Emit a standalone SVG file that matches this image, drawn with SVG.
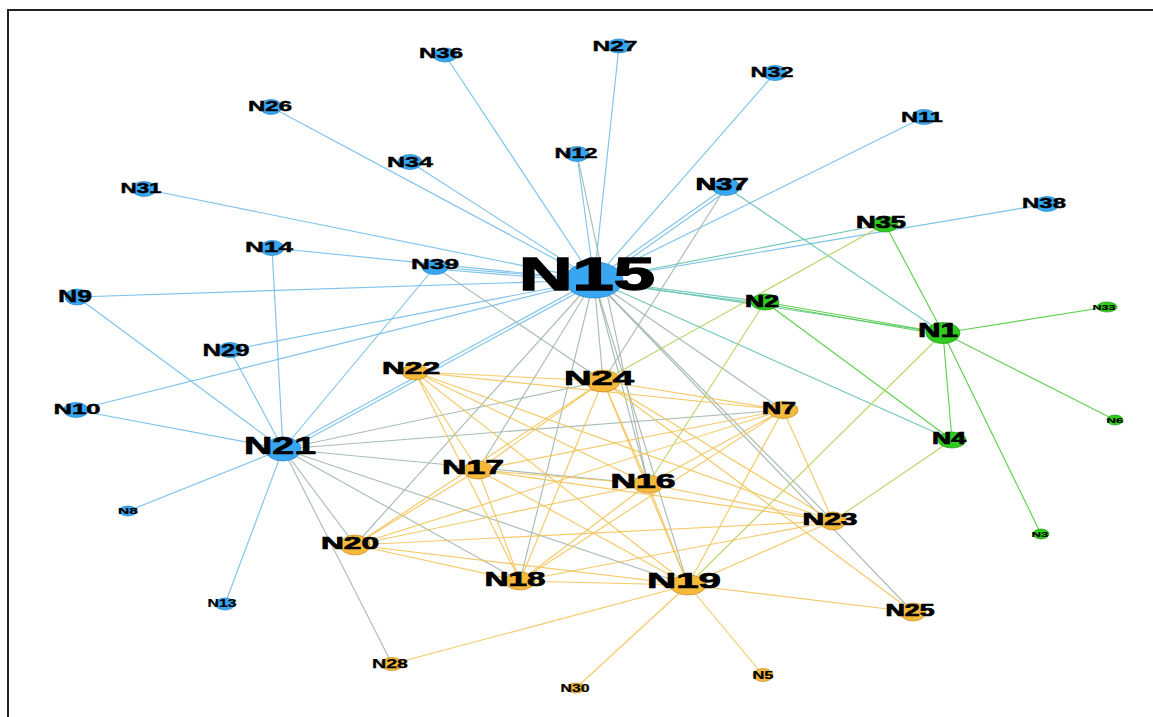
<svg xmlns="http://www.w3.org/2000/svg" width="1153" height="717" viewBox="0 0 1153 717">
<style>
.e{stroke-width:1.15;fill:none;opacity:0.9}
.bb{stroke:#72bce8}
.bo{stroke:#a0b6aa}
.oo{stroke:#f3c355}
.gg{stroke:#4fca3c}
.bg{stroke:#62c2b0}
.go{stroke:#b2d05a}
.b ellipse{fill:#39a6f2;stroke:#2a86c9;stroke-width:0.7}
.g ellipse{fill:#2fcc1f;stroke:#1f9a12;stroke-width:0.7}
.o ellipse{fill:#f7b93c;stroke:#c08a22;stroke-width:0.7}
text{font-family:"Liberation Sans",Arial,sans-serif;font-weight:bold;fill:#000;stroke:#000;stroke-width:0.4;text-anchor:middle}
text.big{stroke-width:1.4}
text.mid{stroke-width:0.7}
</style>
<rect x="0" y="0" width="1153" height="717" fill="#fff"/>
<path d="M8,717 V10 H1153" fill="none" stroke="#222" stroke-width="2"/>
<g id="connectors">
<line class="e bb" x1="594" y1="280" x2="445" y2="55"/>
<line class="e bb" x1="594" y1="280" x2="619" y2="46"/>
<line class="e bb" x1="594" y1="280" x2="775" y2="73"/>
<line class="e bb" x1="594" y1="280" x2="924" y2="117"/>
<line class="e bb" x1="594" y1="280" x2="1047" y2="204"/>
<line class="e bb" x1="594" y1="280" x2="271" y2="107"/>
<line class="e bb" x1="594" y1="280" x2="410" y2="162"/>
<line class="e bb" x1="594" y1="280" x2="577" y2="154"/>
<line class="e bb" x1="594" y1="280" x2="726" y2="187"/>
<line class="e bb" x1="596" y1="283" x2="728" y2="190"/>
<line class="e bb" x1="594" y1="280" x2="144" y2="189"/>
<line class="e bb" x1="594" y1="280" x2="272" y2="248"/>
<line class="e bb" x1="594" y1="280" x2="435" y2="267"/>
<line class="e bb" x1="594" y1="282" x2="435" y2="269"/>
<line class="e bb" x1="594" y1="280" x2="77" y2="297"/>
<line class="e bb" x1="594" y1="280" x2="230" y2="350"/>
<line class="e bb" x1="594" y1="280" x2="76" y2="410"/>
<line class="e bb" x1="594" y1="280" x2="283" y2="449"/>
<line class="e bb" x1="595" y1="283" x2="284" y2="452"/>
<line class="e bb" x1="283" y1="449" x2="272" y2="248"/>
<line class="e bb" x1="283" y1="449" x2="77" y2="297"/>
<line class="e bb" x1="283" y1="449" x2="230" y2="350"/>
<line class="e bb" x1="283" y1="449" x2="76" y2="410"/>
<line class="e bb" x1="283" y1="449" x2="435" y2="267"/>
<line class="e bb" x1="283" y1="449" x2="128" y2="511"/>
<line class="e bb" x1="283" y1="449" x2="225" y2="604"/>
<line class="e bg" x1="594" y1="280" x2="885" y2="224"/>
<line class="e bg" x1="594" y1="280" x2="765" y2="302"/>
<line class="e bg" x1="594" y1="282" x2="765" y2="304"/>
<line class="e bg" x1="594" y1="280" x2="943" y2="333"/>
<line class="e bg" x1="594" y1="280" x2="952" y2="440"/>
<line class="e bg" x1="726" y1="187" x2="943" y2="333"/>
<line class="e bo" x1="594" y1="280" x2="603" y2="381"/>
<line class="e bo" x1="594" y1="280" x2="478" y2="470"/>
<line class="e bo" x1="594" y1="280" x2="520" y2="581"/>
<line class="e bo" x1="594" y1="280" x2="648" y2="484"/>
<line class="e bo" x1="594" y1="280" x2="688" y2="585"/>
<line class="e bo" x1="594" y1="280" x2="833" y2="521"/>
<line class="e bo" x1="594" y1="280" x2="913" y2="612"/>
<line class="e bo" x1="594" y1="280" x2="355" y2="545"/>
<line class="e bo" x1="594" y1="280" x2="783" y2="410"/>
<line class="e bo" x1="577" y1="154" x2="648" y2="484"/>
<line class="e bo" x1="726" y1="187" x2="603" y2="381"/>
<line class="e bo" x1="435" y1="267" x2="603" y2="381"/>
<line class="e bo" x1="283" y1="449" x2="603" y2="381"/>
<line class="e bo" x1="283" y1="449" x2="783" y2="410"/>
<line class="e bo" x1="283" y1="449" x2="648" y2="484"/>
<line class="e bo" x1="283" y1="449" x2="520" y2="581"/>
<line class="e bo" x1="283" y1="449" x2="688" y2="585"/>
<line class="e bo" x1="283" y1="449" x2="355" y2="545"/>
<line class="e bo" x1="283" y1="449" x2="392" y2="664"/>
<line class="e gg" x1="885" y1="224" x2="943" y2="333"/>
<line class="e gg" x1="765" y1="302" x2="943" y2="333"/>
<line class="e gg" x1="765" y1="304" x2="943" y2="335"/>
<line class="e gg" x1="765" y1="302" x2="952" y2="440"/>
<line class="e gg" x1="943" y1="333" x2="1107" y2="307"/>
<line class="e gg" x1="943" y1="333" x2="1115" y2="420"/>
<line class="e gg" x1="943" y1="333" x2="1041" y2="534"/>
<line class="e gg" x1="943" y1="333" x2="952" y2="440"/>
<line class="e go" x1="885" y1="224" x2="603" y2="381"/>
<line class="e go" x1="765" y1="302" x2="648" y2="484"/>
<line class="e go" x1="943" y1="333" x2="688" y2="585"/>
<line class="e go" x1="952" y1="440" x2="833" y2="521"/>
<line class="e oo" x1="415" y1="372" x2="603" y2="381"/>
<line class="e oo" x1="415" y1="372" x2="478" y2="470"/>
<line class="e oo" x1="415" y1="372" x2="520" y2="581"/>
<line class="e oo" x1="415" y1="372" x2="648" y2="484"/>
<line class="e oo" x1="415" y1="372" x2="688" y2="585"/>
<line class="e oo" x1="415" y1="372" x2="833" y2="521"/>
<line class="e oo" x1="415" y1="372" x2="783" y2="410"/>
<line class="e oo" x1="603" y1="381" x2="478" y2="470"/>
<line class="e oo" x1="603" y1="381" x2="648" y2="484"/>
<line class="e oo" x1="603" y1="381" x2="520" y2="581"/>
<line class="e oo" x1="603" y1="381" x2="688" y2="585"/>
<line class="e oo" x1="603" y1="381" x2="355" y2="545"/>
<line class="e oo" x1="603" y1="381" x2="783" y2="410"/>
<line class="e oo" x1="603" y1="381" x2="833" y2="521"/>
<line class="e oo" x1="603" y1="381" x2="913" y2="612"/>
<line class="e oo" x1="478" y1="470" x2="648" y2="484"/>
<line class="e oo" x1="478" y1="470" x2="520" y2="581"/>
<line class="e oo" x1="478" y1="470" x2="688" y2="585"/>
<line class="e oo" x1="478" y1="470" x2="355" y2="545"/>
<line class="e oo" x1="478" y1="470" x2="783" y2="410"/>
<line class="e oo" x1="478" y1="470" x2="833" y2="521"/>
<line class="e oo" x1="648" y1="484" x2="520" y2="581"/>
<line class="e oo" x1="648" y1="484" x2="688" y2="585"/>
<line class="e oo" x1="648" y1="484" x2="355" y2="545"/>
<line class="e oo" x1="648" y1="484" x2="783" y2="410"/>
<line class="e oo" x1="648" y1="484" x2="833" y2="521"/>
<line class="e oo" x1="783" y1="410" x2="520" y2="581"/>
<line class="e oo" x1="783" y1="410" x2="688" y2="585"/>
<line class="e oo" x1="783" y1="410" x2="355" y2="545"/>
<line class="e oo" x1="783" y1="410" x2="833" y2="521"/>
<line class="e oo" x1="355" y1="545" x2="520" y2="581"/>
<line class="e oo" x1="355" y1="545" x2="688" y2="585"/>
<line class="e oo" x1="355" y1="545" x2="833" y2="521"/>
<line class="e oo" x1="520" y1="581" x2="688" y2="585"/>
<line class="e oo" x1="520" y1="581" x2="833" y2="521"/>
<line class="e oo" x1="688" y1="585" x2="833" y2="521"/>
<line class="e oo" x1="688" y1="585" x2="913" y2="612"/>
<line class="e oo" x1="688" y1="585" x2="392" y2="664"/>
<line class="e oo" x1="688" y1="585" x2="576" y2="688"/>
<line class="e oo" x1="688" y1="585" x2="763" y2="675"/>
</g>
<g id="nodes">
<g id="N15" class="b"><ellipse cx="594" cy="280" rx="29" ry="18"/><text class="big" x="587" y="290" font-size="46" textLength="136" lengthAdjust="spacingAndGlyphs">N15</text></g>
<g id="N21" class="b"><ellipse cx="283" cy="449" rx="18" ry="12"/><text class="mid" x="280" y="454" font-size="24" textLength="72" lengthAdjust="spacingAndGlyphs">N21</text></g>
<g id="N36" class="b"><ellipse cx="445" cy="55" rx="12" ry="7"/><text x="441" y="58" font-size="14" textLength="44" lengthAdjust="spacingAndGlyphs">N36</text></g>
<g id="N27" class="b"><ellipse cx="619" cy="46" rx="12" ry="7"/><text x="615" y="51" font-size="15" textLength="45" lengthAdjust="spacingAndGlyphs">N27</text></g>
<g id="N32" class="b"><ellipse cx="775" cy="73" rx="12" ry="7.5"/><text x="772" y="77" font-size="14" textLength="43" lengthAdjust="spacingAndGlyphs">N32</text></g>
<g id="N11" class="b"><ellipse cx="924" cy="117" rx="12" ry="7.5"/><text x="922" y="122" font-size="15" textLength="42" lengthAdjust="spacingAndGlyphs">N11</text></g>
<g id="N38" class="b"><ellipse cx="1047" cy="204" rx="12" ry="7.5"/><text x="1044" y="208" font-size="14" textLength="44" lengthAdjust="spacingAndGlyphs">N38</text></g>
<g id="N26" class="b"><ellipse cx="271" cy="107" rx="11" ry="7.5"/><text x="270" y="111" font-size="14" textLength="44" lengthAdjust="spacingAndGlyphs">N26</text></g>
<g id="N34" class="b"><ellipse cx="410" cy="162" rx="12" ry="7.5"/><text x="410" y="167" font-size="15" textLength="46" lengthAdjust="spacingAndGlyphs">N34</text></g>
<g id="N12" class="b"><ellipse cx="577" cy="154" rx="12" ry="7.5"/><text x="576" y="158" font-size="14" textLength="43" lengthAdjust="spacingAndGlyphs">N12</text></g>
<g id="N37" class="b"><ellipse cx="726" cy="187" rx="14" ry="8.5"/><text class="mid" x="722" y="190" font-size="17" textLength="53" lengthAdjust="spacingAndGlyphs">N37</text></g>
<g id="N31" class="b"><ellipse cx="144" cy="189" rx="12" ry="7.5"/><text x="141" y="193" font-size="14" textLength="41" lengthAdjust="spacingAndGlyphs">N31</text></g>
<g id="N14" class="b"><ellipse cx="272" cy="248" rx="12" ry="7.5"/><text x="269" y="252" font-size="15" textLength="48" lengthAdjust="spacingAndGlyphs">N14</text></g>
<g id="N39" class="b"><ellipse cx="435" cy="267" rx="13" ry="7.5"/><text x="435" y="269" font-size="14" textLength="48" lengthAdjust="spacingAndGlyphs">N39</text></g>
<g id="N9" class="b"><ellipse cx="77" cy="297" rx="12" ry="8"/><text x="75" y="302" font-size="16" textLength="34" lengthAdjust="spacingAndGlyphs">N9</text></g>
<g id="N29" class="b"><ellipse cx="230" cy="350" rx="12" ry="7.5"/><text x="226" y="356" font-size="16" textLength="47" lengthAdjust="spacingAndGlyphs">N29</text></g>
<g id="N10" class="b"><ellipse cx="76" cy="410" rx="12.5" ry="7.5"/><text x="77" y="414" font-size="15" textLength="47" lengthAdjust="spacingAndGlyphs">N10</text></g>
<g id="N8" class="b"><ellipse cx="128" cy="511" rx="9" ry="5"/><text x="128" y="513.5" font-size="8.5" textLength="20" lengthAdjust="spacingAndGlyphs" style="stroke-width:0.2">N8</text></g>
<g id="N13" class="b"><ellipse cx="225" cy="604" rx="10" ry="6"/><text x="222" y="607" font-size="10" textLength="29" lengthAdjust="spacingAndGlyphs" style="stroke-width:0.2">N13</text></g>
<g id="N35" class="g"><ellipse cx="885" cy="224" rx="13" ry="8"/><text class="mid" x="881" y="228" font-size="17" textLength="50" lengthAdjust="spacingAndGlyphs">N35</text></g>
<g id="N2" class="g"><ellipse cx="765" cy="302" rx="14" ry="8"/><text class="mid" x="762" y="307" font-size="16" textLength="34" lengthAdjust="spacingAndGlyphs">N2</text></g>
<g id="N1" class="g"><ellipse cx="943" cy="333" rx="17" ry="10.5"/><text class="mid" x="938" y="337" font-size="20" textLength="40" lengthAdjust="spacingAndGlyphs">N1</text></g>
<g id="N33" class="g"><ellipse cx="1107" cy="307" rx="10" ry="5"/><text x="1104" y="310" font-size="8" textLength="23" lengthAdjust="spacingAndGlyphs" style="stroke-width:0.15">N33</text></g>
<g id="N6" class="g"><ellipse cx="1115" cy="420" rx="8" ry="5"/><text x="1115" y="423" font-size="8" textLength="17" lengthAdjust="spacingAndGlyphs" style="stroke-width:0.15">N6</text></g>
<g id="N4" class="g"><ellipse cx="952" cy="440" rx="14" ry="8"/><text class="mid" x="949" y="444" font-size="17" textLength="34" lengthAdjust="spacingAndGlyphs">N4</text></g>
<g id="N3" class="g"><ellipse cx="1041" cy="534" rx="8" ry="5"/><text x="1040" y="537" font-size="8" textLength="17" lengthAdjust="spacingAndGlyphs" style="stroke-width:0.15">N3</text></g>
<g id="N22" class="o"><ellipse cx="415" cy="372" rx="13" ry="8"/><text class="mid" x="411" y="374" font-size="17" textLength="58" lengthAdjust="spacingAndGlyphs">N22</text></g>
<g id="N24" class="o"><ellipse cx="603" cy="381" rx="17" ry="11"/><text class="mid" x="599" y="385" font-size="21" textLength="70" lengthAdjust="spacingAndGlyphs">N24</text></g>
<g id="N7" class="o"><ellipse cx="783" cy="410" rx="15" ry="8.5"/><text class="mid" x="779" y="414" font-size="17" textLength="34" lengthAdjust="spacingAndGlyphs">N7</text></g>
<g id="N17" class="o"><ellipse cx="478" cy="470" rx="15" ry="9"/><text class="mid" x="473" y="474" font-size="21" textLength="62" lengthAdjust="spacingAndGlyphs">N17</text></g>
<g id="N16" class="o"><ellipse cx="648" cy="484" rx="15" ry="9"/><text class="mid" x="643" y="488" font-size="20" textLength="65" lengthAdjust="spacingAndGlyphs">N16</text></g>
<g id="N23" class="o"><ellipse cx="833" cy="521" rx="13" ry="9"/><text class="mid" x="830" y="525" font-size="17" textLength="55" lengthAdjust="spacingAndGlyphs">N23</text></g>
<g id="N20" class="o"><ellipse cx="355" cy="545" rx="15" ry="10"/><text class="mid" x="350" y="549" font-size="17" textLength="58" lengthAdjust="spacingAndGlyphs">N20</text></g>
<g id="N18" class="o"><ellipse cx="520" cy="581" rx="15" ry="9"/><text class="mid" x="515" y="586" font-size="21" textLength="61" lengthAdjust="spacingAndGlyphs">N18</text></g>
<g id="N19" class="o"><ellipse cx="688" cy="585" rx="18" ry="10"/><text class="mid" x="684" y="588" font-size="22" textLength="74" lengthAdjust="spacingAndGlyphs">N19</text></g>
<g id="N25" class="o"><ellipse cx="913" cy="612" rx="13" ry="9"/><text class="mid" x="910" y="616" font-size="16" textLength="49" lengthAdjust="spacingAndGlyphs">N25</text></g>
<g id="N28" class="o"><ellipse cx="392" cy="664" rx="11" ry="6.5"/><text x="390" y="668" font-size="12" textLength="36" lengthAdjust="spacingAndGlyphs" style="stroke-width:0.25">N28</text></g>
<g id="N30" class="o"><ellipse cx="576" cy="688" rx="9" ry="5"/><text x="575" y="692" font-size="10" textLength="29" lengthAdjust="spacingAndGlyphs" style="stroke-width:0.2">N30</text></g>
<g id="N5" class="o"><ellipse cx="763" cy="675" rx="10" ry="6.5"/><text x="763" y="679" font-size="11" textLength="21" lengthAdjust="spacingAndGlyphs" style="stroke-width:0.2">N5</text></g>
</g>
</svg>
